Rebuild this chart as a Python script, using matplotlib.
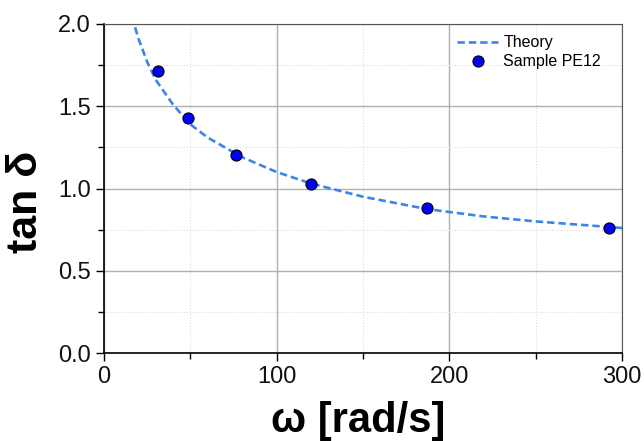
import matplotlib
matplotlib.use("Agg")
import matplotlib.pyplot as plt
from matplotlib.ticker import MultipleLocator

plt.rcParams["font.family"] = ["Liberation Sans", "DejaVu Sans"]

# theory curve
theory_w = [18, 20, 25, 30, 40, 50, 60, 80, 100, 120, 150, 187, 220, 250, 300]
theory_tan = [1.98, 1.91, 1.77, 1.66, 1.51, 1.39, 1.31, 1.19, 1.10, 1.03, 0.95, 0.875, 0.83, 0.80, 0.76]

# measured sample
sample_w = [31.3, 48.6, 76.4, 119.9, 187.0, 292.4]
sample_tan = [1.714, 1.43, 1.204, 1.027, 0.881, 0.760]

fig = plt.figure(figsize=(6.44, 4.41), dpi=100)
ax = fig.add_axes([104 / 644, 1 - 353 / 441, 518 / 644, 329 / 441])

ax.plot(theory_w, theory_tan, color="#3a86e8", lw=1.9, dashes=(2.8, 1.5),
        label="Theory", zorder=3)
ax.plot(sample_w, sample_tan, "o", color="#0000ff", mec="black", mew=0.8,
        ms=8, label="Sample PE12", zorder=4)

ax.set_xlim(0, 300)
ax.set_ylim(0, 2.0)
ax.xaxis.set_major_locator(MultipleLocator(100))
ax.xaxis.set_minor_locator(MultipleLocator(50))
ax.yaxis.set_major_locator(MultipleLocator(0.5))
ax.yaxis.set_minor_locator(MultipleLocator(0.25))
ax.set_yticklabels(["%.1f" % v for v in ax.get_yticks()])

ax.grid(True, which="major", color="#b0b0b0", lw=1)
ax.grid(True, which="minor", color="#dddddd", lw=0.8, ls=":")
ax.set_axisbelow(True)

ax.tick_params(which="both", direction="out", top=False, right=False,
               labelsize=17, labelcolor="#111111")
ax.tick_params(which="major", length=6, width=1)
ax.tick_params(which="minor", length=4, width=1)
for s in ["left", "bottom"]:
    ax.spines[s].set_linewidth(1.2)
for s in ["top", "right"]:
    ax.spines[s].set_color("#555555")

ax.set_xlabel("ω [rad/s]", fontsize=30, fontweight="bold")
ax.xaxis.set_label_coords(0.49, -0.145)
ax.set_ylabel("tan δ", fontsize=31, fontweight="bold")
ax.yaxis.set_label_coords(-0.112, 0.46)

ax.legend(loc="upper right", bbox_to_anchor=(1 - 10 / 518, 1.0), frameon=False,
          fontsize=11.5, handlelength=2.6, handletextpad=0.3,
          labelspacing=0.25, borderaxespad=0.3)

fig.savefig("out.png", dpi=100)
